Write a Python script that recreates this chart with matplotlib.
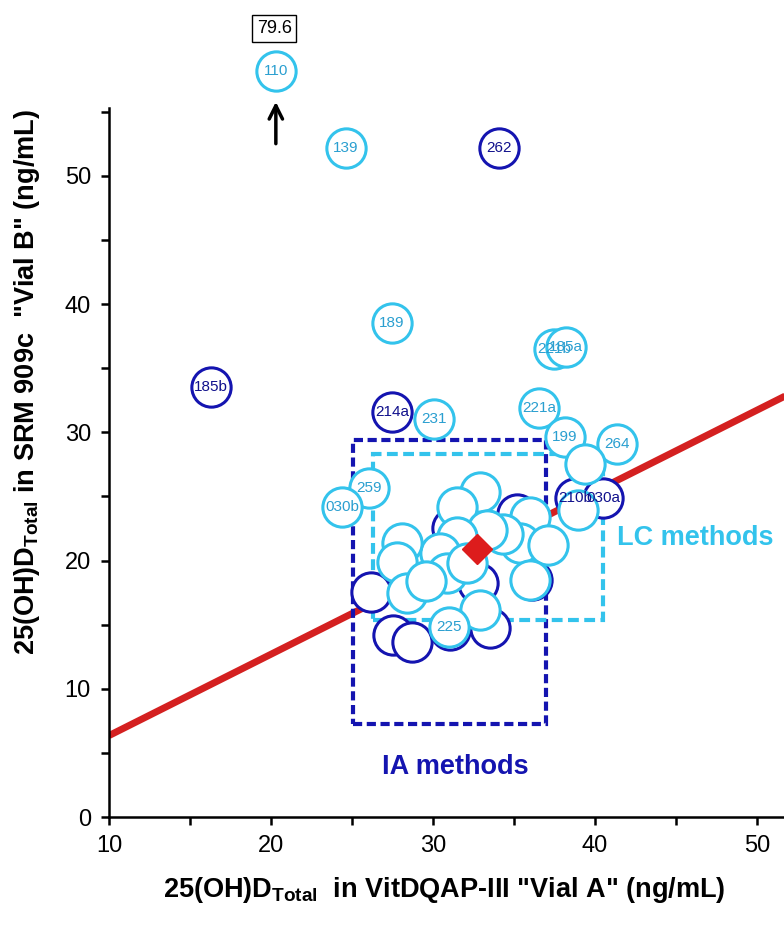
import matplotlib.pyplot as plt
from matplotlib.patches import Rectangle
from matplotlib.ticker import MultipleLocator

plt.rcParams['font.family'] = ['Liberation Sans', 'DejaVu Sans']
plt.rcParams['mathtext.fontset'] = 'custom'
plt.rcParams['mathtext.rm'] = 'Liberation Sans'
plt.rcParams['mathtext.bf'] = 'Liberation Sans:bold'

LC_COLOR = '#33c3ec'
LC_TEXT = '#2a9fd0'
IA_COLOR = '#1414b0'
IA_TEXT = '#10108c'
RED = '#d42020'

# immunoassay (IA) results - dark circles
ia_x = [34.09, 16.30, 27.49, 38.77, 40.51,
        26.15, 27.55, 28.69, 33.52, 31.05, 31.15, 35.16, 36.09, 32.80]
ia_y = [52.21, 33.52, 31.61, 24.86, 24.86,
        17.57, 14.20, 13.67, 14.72, 14.59, 22.52, 23.67, 18.49, 18.23]
ia_lab = ['262', '185b', '214a', '210b', '030a',
          '', '', '', '', '', '', '', '', '']

# LC results - light circles (110 is off scale, real value 79.6)
lc_x = [20.29, 24.61, 27.45, 30.08, 26.05, 24.40, 37.47, 38.21, 36.54, 38.15, 41.38,
        39.38, 38.97, 32.90, 31.46, 35.99, 35.37, 37.12, 34.34, 33.31, 31.46, 30.43,
        28.07, 27.76, 30.84, 32.07, 28.37, 32.90, 35.99, 29.60, 30.99]
lc_y = [58.21, 52.21, 38.50, 31.05, 25.64, 24.20, 36.50, 36.68, 31.93, 29.66, 29.10,
        27.53, 23.95, 25.37, 24.20, 23.42, 21.35, 21.22, 22.11, 22.39, 21.85, 20.56,
        21.34, 19.91, 19.00, 19.78, 17.44, 16.15, 18.49, 18.40, 14.82]
lc_lab = ['110', '139', '189', '231', '259', '030b', '221b', '185a', '221a', '199', '264',
          '', '', '', '', '', '', '', '', '', '', '',
          '', '', '', '', '', '', '', '', '225']

# consensus point and reference line
target_x = [32.70]
target_y = [20.9]
ref_x = [10, 52]
ref_y = [6.35, 33.0]

# method boxes: (x0, x1, y0, y1)
ia_box = (25.06, 36.96, 7.25, 29.41)
lc_box = (26.28, 40.49, 15.40, 28.31)

fig = plt.figure(figsize=(7.84, 9.25), dpi=100)
ax = fig.add_axes([109/784, 1-817/925, (784-109)/784, (817-108)/925])

ax.plot(ref_x, ref_y, color=RED, lw=5, solid_capstyle='butt', zorder=2)

for box, col, dash in [(ia_box, IA_COLOR, (2.2, 1.1)), (lc_box, LC_COLOR, (2.6, 1.3))]:
    r = Rectangle((box[0], box[2]), box[1]-box[0], box[3]-box[2], fill=False,
                  edgecolor=col, lw=3, ls=(0, dash), zorder=2.5)
    ax.add_patch(r)

ax.scatter(ia_x, ia_y, s=800, facecolor='white', edgecolor=IA_COLOR, lw=2.2,
           zorder=3, clip_on=False)
ax.scatter(lc_x, lc_y, s=800, facecolor='white', edgecolor=LC_COLOR, lw=2.2,
           zorder=4, clip_on=False)

for x, y, t in zip(ia_x, ia_y, ia_lab):
    if t:
        ax.text(x, y, t, color=IA_TEXT, fontsize=11, ha='center', va='center',
                zorder=5, clip_on=False)
for x, y, t in zip(lc_x, lc_y, lc_lab):
    if t:
        ax.text(x, y, t, color=LC_TEXT, fontsize=11, ha='center', va='center',
                zorder=5, clip_on=False)

ax.plot(target_x, target_y, marker='D', ms=15, color='#dd1c1c', ls='none', zorder=6)

# off-scale marker for lab 110
ax.annotate('', xy=(20.3, 56.0), xytext=(20.3, 52.3),
            arrowprops=dict(arrowstyle='->', lw=2.5, color='black', mutation_scale=24),
            annotation_clip=False)
ax.text(20.2, 61.5, '79.6', fontsize=13, ha='center', va='center', clip_on=False,
        bbox=dict(boxstyle='square,pad=0.25', fc='white', ec='black', lw=1))

ax.text(31.36, 3.9, 'IA methods', color=IA_COLOR, fontsize=19.5, fontweight='bold',
        ha='center', va='center')
ax.text(46.17, 21.76, 'LC methods', color=LC_COLOR, fontsize=19.5, fontweight='bold',
        ha='center', va='center')

ax.set_xlim(10, 51.67)
ax.set_ylim(0, 55.3)
ax.xaxis.set_major_locator(MultipleLocator(10))
ax.xaxis.set_minor_locator(MultipleLocator(5))
ax.yaxis.set_major_locator(MultipleLocator(10))
ax.yaxis.set_minor_locator(MultipleLocator(5))
ax.spines['top'].set_visible(False)
ax.spines['right'].set_visible(False)
ax.spines['left'].set_linewidth(1.8)
ax.spines['bottom'].set_linewidth(1.8)
ax.tick_params(which='both', direction='out', length=6, width=1.8, labelsize=17, pad=7)
ax.tick_params(which='minor', labelbottom=False, labelleft=False)

fig.text(27/784, 1-382/925,
         r'25(OH)D$_{\mathbf{Total}}$ in SRM 909c  "Vial B" (ng/mL)',
         rotation=90, ha='center', va='center', fontsize=19.5, fontweight='bold')
fig.text(444/784, 1-890/925,
         r'25(OH)D$_{\mathbf{Total}}$  in VitDQAP-III "Vial A" (ng/mL)',
         ha='center', va='center', fontsize=19.5, fontweight='bold')

fig.savefig('out.png', dpi=100)
